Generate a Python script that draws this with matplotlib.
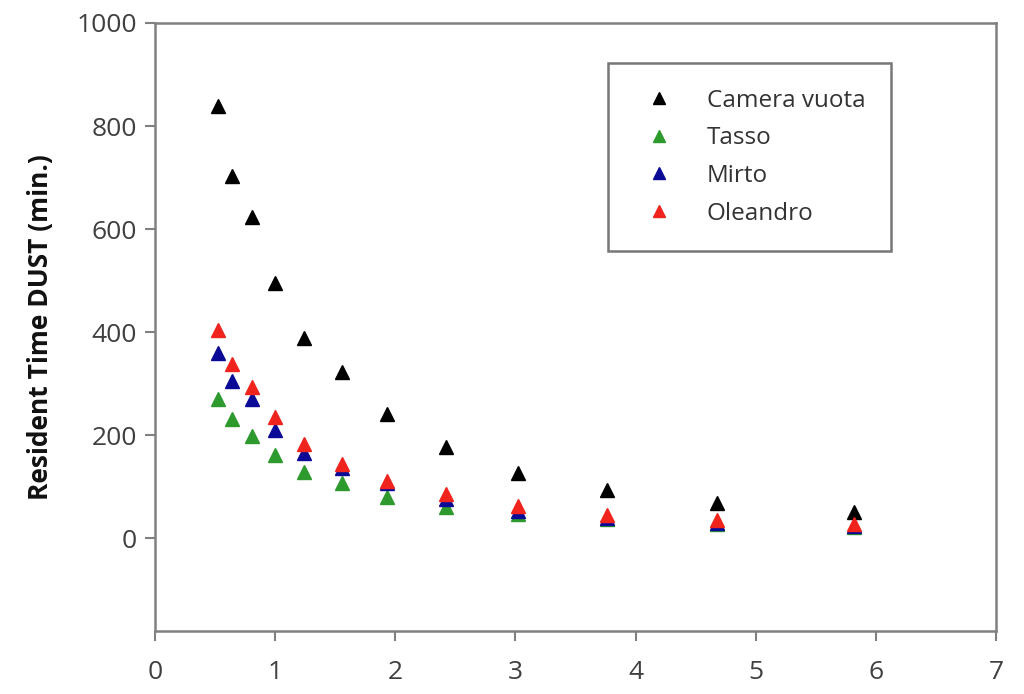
import matplotlib
matplotlib.use("Agg")
import matplotlib.pyplot as plt

plt.rcParams['font.family'] = ['Open Sans', 'DejaVu Sans']

# valori
x_vals = [0.52, 0.64, 0.81, 1.0, 1.24, 1.56, 1.93, 2.42, 3.02, 3.76, 4.68, 5.82]
camera_vuota = [839, 703, 624, 496, 389, 322, 242, 177, 126, 93, 68, 50]
tasso = [271, 231, 198, 161, 128, 107, 81, 60, 48, 37, 28, 22]
mirto = [360, 306, 271, 211, 165, 136, 107, 76, 52, 40, 30, 24]
oleandro = [405, 339, 293, 235, 182, 145, 112, 85, 62, 45, 35, 27]

series_names = ['Camera vuota', 'Tasso', 'Mirto', 'Oleandro']
series_colors = ['#000000', '#2e9a2e', '#0a0a96', '#f0241c']

fig = plt.figure(figsize=(10.24, 6.94), dpi=100)
ax = fig.add_axes([0.1514, 0.0908, 0.8213, 0.8761])

for name, vals, col in zip(series_names, [camera_vuota, tasso, mirto, oleandro], series_colors):
    ax.plot(x_vals, vals, linestyle='none', marker='^', markersize=10,
            color=col, markeredgecolor=col, label=name)

ax.set_xlim(0, 7)
ax.set_ylim(-180, 1000)
ax.set_xticks(range(0, 8))
ax.set_yticks(range(0, 1001, 200))
ax.tick_params(axis='both', labelsize=19, length=7, width=1.5,
               direction='out', colors='#808080', labelcolor='#404040')
ax.tick_params(axis='x', pad=14)
ax.tick_params(axis='y', pad=6)
for s in ax.spines.values():
    s.set_color('#808080')
    s.set_linewidth(1.8)

ax.set_ylabel('Resident Time DUST (min.)', fontsize=19, fontweight='bold',
              labelpad=16, color='#111111')

leg = ax.legend(loc='upper left', bbox_to_anchor=(0.594, 0.909),
                bbox_transform=fig.transFigure, fontsize=17.5, frameon=True,
                fancybox=False, borderpad=1.05, labelspacing=0.56,
                handletextpad=0.9, handlelength=2.1, borderaxespad=0)
leg.get_frame().set_edgecolor('#555555')
leg.get_frame().set_linewidth(1.8)
for t in leg.get_texts():
    t.set_color('#333333')
for h in leg.legend_handles:
    h.set_markersize(8)

fig.savefig('out.png', dpi=100, facecolor='white')
